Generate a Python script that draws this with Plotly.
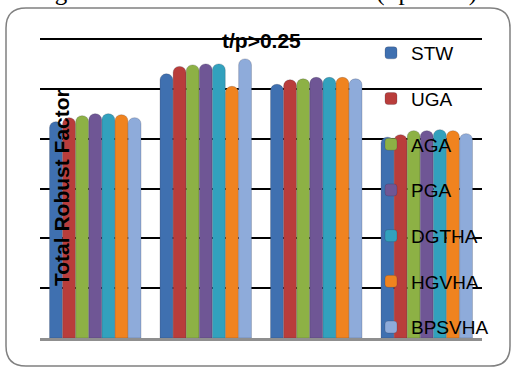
import plotly.graph_objects as go

# Four test cases, seven methods each
cases = ["Case 1", "Case 2", "Case 3", "Case 4"]
methods = ["STW", "UGA", "AGA", "PGA", "DGTHA", "HGVHA", "BPSVHA"]

stw = [4.34, 5.30, 5.09, 4.03]
uga = [4.42, 5.45, 5.18, 4.08]
aga = [4.46, 5.48, 5.20, 4.16]
pga = [4.50, 5.50, 5.23, 4.16]
dgtha = [4.50, 5.50, 5.23, 4.18]
hgvha = [4.48, 5.05, 5.23, 4.16]
bpsvha = [4.42, 5.60, 5.20, 4.10]

series = [stw, uga, aga, pga, dgtha, hgvha, bpsvha]
colors = ["#3F70B0", "#B93D3B", "#8DB145", "#6F5695", "#32A1BD", "#F0831F", "#8EABDA"]

W, H = 512, 368
ML, MR, MT, MB = 40, 30, 36, 30
PW, PH = W - ML - MR, H - MT - MB


def px(x):
    return (x - ML) / PW


def py(y):
    return (H - MB - y) / PH


fig = go.Figure()
for name, vals, col in zip(methods, series, colors):
    fig.add_trace(go.Bar(
        x=cases, y=vals, name=name, legendgroup=name,
        marker=dict(color=col, cornerradius=6,
                    line=dict(color="rgba(40,40,60,0.35)", width=0.6)),
    ))

# rounded frame around the chart
l, r, t, b, rad = 6, 510, 8, 366, 20
path = (
    f"M {px(l + rad)},{py(t)} L {px(r - rad)},{py(t)} "
    f"Q {px(r)},{py(t)} {px(r)},{py(t + rad)} "
    f"L {px(r)},{py(b - rad)} Q {px(r)},{py(b)} {px(r - rad)},{py(b)} "
    f"L {px(l + rad)},{py(b)} Q {px(l)},{py(b)} {px(l)},{py(b - rad)} "
    f"L {px(l)},{py(t + rad)} Q {px(l)},{py(t)} {px(l + rad)},{py(t)} Z"
)

fig.update_layout(
    width=W, height=H,
    margin=dict(l=ML, r=MR, t=MT, b=MB, pad=0),
    paper_bgcolor="white", plot_bgcolor="white",
    barmode="group", bargap=0.17, bargroupgap=0.02,
    showlegend=True,
    legend=dict(
        x=px(371), y=py(34), xanchor="left", yanchor="top",
        bgcolor="rgba(0,0,0,0)", tracegroupgap=18, maxheight=600,
        font=dict(family="Liberation Sans, Arial, sans-serif", size=19, color="black"),
    ),
    xaxis=dict(showticklabels=False, showgrid=False, ticks="",
               showline=True, linecolor="#8f8f8f", linewidth=2.5),
    yaxis=dict(range=[0, 6.06], tickvals=[1, 2, 3, 4, 5, 6], showticklabels=False,
               showgrid=True, gridcolor="black", gridwidth=2,
               zeroline=False, showline=False, ticks=""),
    shapes=[dict(type="path", xref="paper", yref="paper", path=path,
                 line=dict(color="#808080", width=1.5), layer="below")],
    annotations=[
        dict(text="Fig.2 Performance Evaluation for (t/p>0.25)",
             x=px(255), y=py(8), xref="paper", yref="paper",
             xanchor="center", yanchor="bottom", showarrow=False,
             font=dict(family="Liberation Serif, Times New Roman, serif", size=25, color="black")),
        dict(text="<b>t/p>0.25</b>", x=px(261), y=py(41), xref="paper", yref="paper",
             xanchor="center", yanchor="middle", showarrow=False,
             font=dict(family="Liberation Sans, Arial, sans-serif", size=21, color="black")),
        dict(text="<b>Total Robust Factor</b>", x=px(61), y=py(188), xref="paper", yref="paper",
             xanchor="center", yanchor="middle", showarrow=False, textangle=-90,
             font=dict(family="Liberation Sans, Arial, sans-serif", size=21, color="black")),
    ],
)

fig.write_html("out.html")
